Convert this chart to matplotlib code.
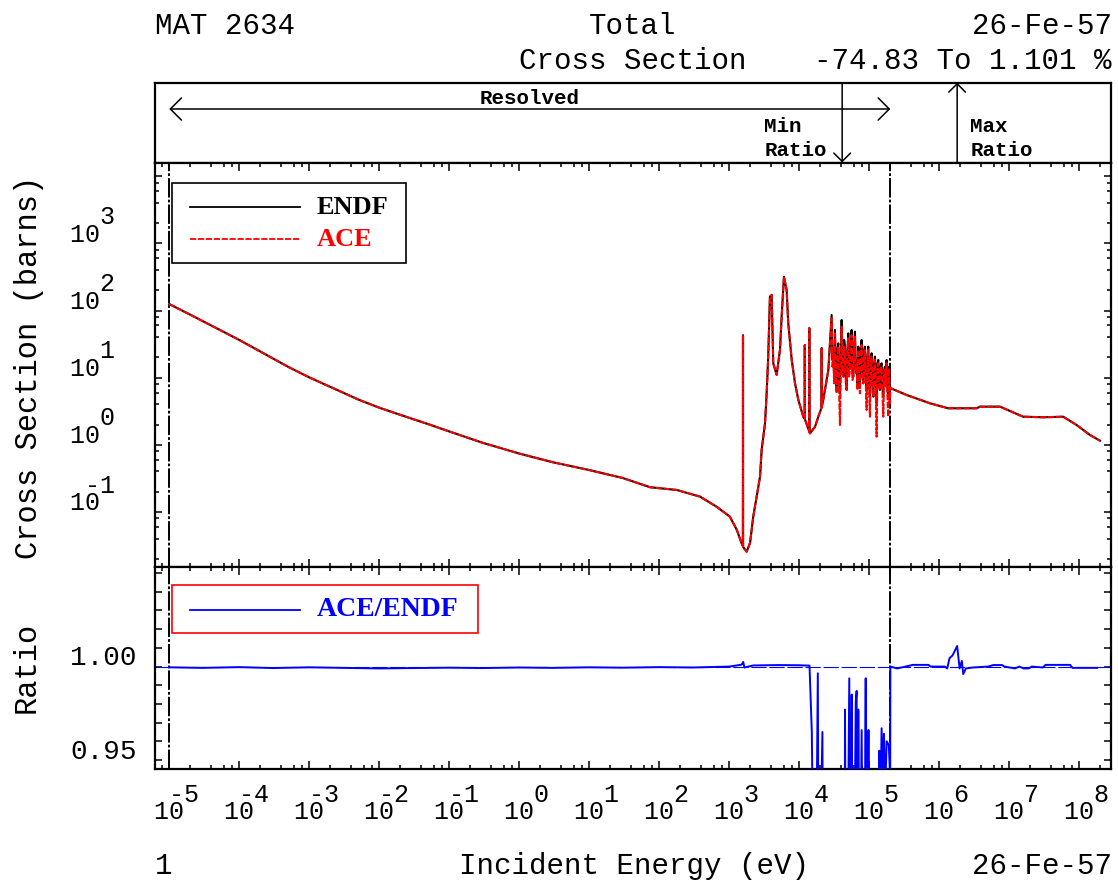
import numpy as np
import matplotlib
matplotlib.use("Agg")
import matplotlib.pyplot as plt
from matplotlib.patches import FancyArrowPatch, Rectangle
from matplotlib.lines import Line2D
from matplotlib.ticker import FixedLocator, NullLocator, NullFormatter

# ---------------------------------------------------------------- data
# Total cross section of Fe-57 (ENDF evaluation), barns vs incident energy (eV)
energy_ev = [
    1e-5, 2e-5, 5e-5, 1e-4, 2e-4, 5e-4, 1e-3, 2e-3, 5e-3, 1e-2,
    2e-2, 5e-2, 0.1, 0.3, 1.0, 3.0, 10.0, 30.0,
    74.0, 178.0, 381.0, 662.0, 1020.0, 1280.0, 1500.0, 1565.0, 1570.0,
    1575.0, 1770.0, 1980.0, 2200.0, 2460.0, 2750.0, 2900.0, 3240.0, 3420.0, 3600.0,
    3810.0, 4030.0, 4250.0, 4750.0, 5300.0, 5600.0, 6040.0, 6600.0, 6960.0, 7800.0,
    8690.0, 9700.0, 11400.0, 11950.0, 12000.0, 12050.0, 13850.0, 13900.0, 13950.0, 14200.0,
    16800.0, 18700.0, 20850.0, 20900.0, 20950.0, 22000.0, 26000.0,
    # dense resonance cluster, 29 keV - 196 keV
    28990.0, 29800.0, 30620.0, 31470.0, 32340.0, 33240.0, 34170.0, 35120.0, 36090.0, 37100.0,
    38130.0, 39190.0, 40270.0, 41390.0, 42550.0, 43730.0, 44940.0, 46190.0, 47480.0, 48800.0,
    50150.0, 51540.0, 52970.0, 54450.0, 55960.0, 57510.0, 59110.0, 60750.0, 62440.0, 64170.0,
    65960.0, 67790.0, 69660.0, 71600.0, 73590.0, 75630.0, 77730.0, 79890.0, 82110.0, 84390.0,
    86740.0, 89150.0, 91620.0, 94170.0, 96780.0, 99470.0, 102200.0, 105100.0, 108000.0, 111000.0,
    114100.0, 117300.0, 120500.0, 123900.0, 127300.0, 130800.0, 134500.0, 138200.0, 142000.0, 146000.0,
    150100.0, 154200.0, 158500.0, 162900.0, 167400.0, 172100.0, 176900.0, 181800.0, 186800.0, 192000.0,
    196000.0,
    2.0e5, 3.42e5, 7.36e5, 1.345e6, 3.42e6, 3.81e6,
    7.36e6, 1.58e7, 3.06e7, 5.9e7, 9.18e7, 1.42e8, 1.98e8,
]
endf_barns = [
    125.0, 86.7, 53.1, 36.5, 24.5, 14.5, 10.1, 7.28, 4.73, 3.57,
    2.79, 2.03, 1.58, 1.07, 0.74, 0.55, 0.42, 0.32,
    0.233, 0.212, 0.169, 0.119, 0.085, 0.054, 0.034, 0.031, 43.0,
    0.030, 0.0255, 0.0344, 0.085, 0.169, 0.335, 0.84, 2.09, 5.85, 20.5,
    161.0, 171.0, 16.4, 11.0, 25.9, 81.0, 320.0, 203.0, 64.6, 18.4,
    8.26, 4.66, 2.62, 2.45, 30.7, 2.40, 1.60, 55.0, 1.55, 1.48,
    1.86, 2.62, 3.6, 27.7, 3.7, 4.66, 13.0,
    85.9, 18.4, 25.9, 10.4, 51.4, 14.6, 6.56, 25.9, 32.5, 8.24,
    5.85, 18.4, 72.4, 16.4, 10.4, 36.5, 29.0, 10.4, 6.56, 25.9,
    45.8, 13.0, 14.6, 32.5, 51.4, 11.6, 10.4, 29.0, 48.5, 14.6,
    18.4, 8.24, 29.0, 13.0, 8.24, 25.9, 36.5, 13.0, 8.24, 25.9,
    29.0, 10.4, 6.56, 20.6, 29.0, 8.24, 5.21, 18.4, 23.1, 9.24,
    5.21, 16.4, 20.6, 8.24, 4.15, 16.4, 18.4, 8.24, 6.56, 15.5,
    16.4, 7.35, 5.21, 13.0, 14.6, 8.24, 18.4, 6.56, 5.21, 14.6,
    8.24,
    7.0, 5.52, 4.15, 3.50, 3.50, 3.70,
    3.70, 2.62, 2.57, 2.62, 1.97, 1.40, 1.15,
]
# ACE values over the same 29 keV - 196 keV cluster
ace_band_barns = [
    76.6, 14.6, 23.1, 8.24, 45.8, 11.6, 5.85, 20.6, 29.0, 6.56,
    1.97, 14.6, 57.6, 13.0, 10.4, 29.0, 25.9, 8.24, 6.56, 23.1,
    38.6, 10.4, 14.6, 25.9, 43.3, 9.24, 10.4, 25.9, 40.9, 11.6,
    16.4, 6.56, 25.9, 11.6, 5.85, 23.1, 30.7, 10.4, 8.24, 20.6,
    25.9, 8.24, 3.30, 18.4, 25.9, 6.56, 2.62, 16.4, 20.6, 7.35,
    5.21, 14.6, 18.4, 6.56, 1.32, 14.6, 16.4, 7.35, 6.56, 13.8,
    14.6, 6.56, 2.62, 11.6, 13.0, 7.35, 16.4, 5.21, 2.62, 13.8,
    4.15,
]

# ACE/ENDF ratio
ratio_energy_ev = [
    1e-5, 3e-5, 1e-4, 3e-4, 1e-3, 3e-3, 1e-2, 3e-2, 0.1, 0.3,
    1.0, 3.0, 10.0, 30.0, 100.0, 300.0, 1000.0, 1500.0, 1580.0, 1650.0,
    2200.0, 5000.0, 10000.0, 14000.0, 15100.0, 15800.0, 16400.0, 17500.0, 18400.0, 19000.0,
    21400.0, 22000.0, 22200.0, 30000.0, 41000.0, 44000.0, 45000.0, 47000.0, 51800.0, 53500.0,
    56100.0, 58000.0, 64100.0, 66000.0, 67000.0, 69700.0, 73000.0, 77800.0, 83000.0, 88900.0,
    92000.0, 96800.0, 98000.0, 100000.0, 120000.0, 135000.0, 139000.0, 145000.0, 150000.0, 156000.0,
    162000.0, 168000.0, 177000.0, 190000.0, 199000.0, 2.0e5, 2.5e5, 3.3e5, 4.2e5, 7.0e5,
    7.5e5, 1.2e6, 1.3e6, 1.4e6, 1.55e6, 1.8e6, 1.9e6, 1.95e6, 2.1e6, 2.2e6,
    2.4e6, 3e6, 5e6, 5.9e6, 7.9e6, 8.5e6, 1.2e7, 1.4e7, 1.6e7, 1.9e7,
    2.1e7, 3e7, 3.3e7, 7.4e7, 8e7, 1.8e8,
]
ratio_ace_endf = [
    0.9996, 0.9993, 0.9997, 0.9992, 0.9996, 0.9993, 0.9990, 0.9992, 0.9994, 0.9992,
    0.9995, 0.9993, 0.9996, 0.9994, 0.9997, 0.9995, 1.0000, 1.0010, 1.0025, 0.9995,
    1.0006, 1.0008, 1.0007, 1.0005, 0.965, 0.90, 0.80, 0.90, 0.9964, 0.85,
    0.965, 0.85, 0.70, 0.60, 0.2517, 0.70, 0.977, 0.80, 0.9937, 0.85,
    0.985, 0.80, 0.981, 0.987, 0.80, 0.977, 0.85, 0.966, 0.80, 0.9937,
    0.80, 0.966, 0.966, 0.80, 0.60, 0.80, 0.955, 0.93, 0.967, 0.94,
    0.964, 0.93, 0.960, 0.958, 0.94, 1.0, 0.9990, 1.0, 1.0009, 1.0009,
    1.0, 1.0, 0.9990, 1.0045, 1.006, 1.01101, 1.003, 0.999, 1.003, 0.996,
    0.999, 0.9995, 1.0, 1.0008, 1.0008, 1.0, 0.999, 1.0, 0.999, 0.999,
    1.0, 0.9995, 1.0009, 1.0009, 0.9993, 0.9993,
]

resolved_range_ev = (1.0e-5, 2.0e5)
x_decades = list(range(-5, 9))
y_decades = list(range(-1, 4))
ratio_labels = {1.00: "1.00", 0.95: "0.95"}

# ---------------------------------------------------------------- setup
plt.rcParams["font.family"] = ["Liberation Mono", "DejaVu Sans Mono"]
plt.rcParams["lines.scale_dashes"] = False

W, H, DPI = 1118, 881, 100
fig = plt.figure(figsize=(W / DPI, H / DPI), dpi=DPI)
fig.patch.set_facecolor("white")


def box(left, top, right, bottom):
    return [left / W, 1 - bottom / H, (right - left) / W, (bottom - top) / H]


def ftext(x, y, s, **kw):
    kw.setdefault("va", "center")
    return fig.text(x / W, 1 - y / H, s, **kw)


L, R = 155.0, 1110.5
ax_top = fig.add_axes(box(L, 82.7, R, 162.5))
ax_xs = fig.add_axes(box(L, 162.5, R, 567.3))
ax_r = fig.add_axes(box(L, 567.3, R, 769.0))

xlim = (10 ** -5.204, 10 ** 8.446)
for ax in (ax_top, ax_xs, ax_r):
    ax.set_xscale("log")
    ax.set_xlim(*xlim)
    for sp in ax.spines.values():
        sp.set_linewidth(1.6)

# top annotation strip: no ticks
ax_top.set_ylim(0, 1)
ax_top.xaxis.set_major_locator(NullLocator())
ax_top.xaxis.set_minor_locator(NullLocator())
ax_top.yaxis.set_major_locator(NullLocator())

ax_xs.set_yscale("log")
ax_xs.set_ylim(10 ** -1.826, 10 ** 4.207)
ax_r.set_ylim(0.9452, 1.0531)

x_major = [10.0 ** k for k in x_decades]
x_minor = [m * 10.0 ** k for k in range(-6, 9) for m in (2, 4, 6, 8)]
for ax in (ax_xs, ax_r):
    ax.xaxis.set_major_locator(FixedLocator(x_major))
    ax.xaxis.set_minor_locator(FixedLocator(x_minor))
    ax.xaxis.set_major_formatter(NullFormatter())
    ax.xaxis.set_minor_formatter(NullFormatter())
    ax.tick_params(which="both", direction="in", top=True, right=True,
                   labelbottom=False, labelleft=False, width=1.1)
    ax.tick_params(which="major", length=5.8)
    ax.tick_params(which="minor", length=3.2)

ax_xs.yaxis.set_major_locator(FixedLocator([10.0 ** k for k in range(-1, 5)]))
ax_xs.yaxis.set_minor_locator(FixedLocator([m * 10.0 ** k for k in range(-2, 5) for m in (2, 4, 6, 8)]))
ax_xs.yaxis.set_major_formatter(NullFormatter())
ax_xs.yaxis.set_minor_formatter(NullFormatter())
ax_xs.tick_params(axis="y", which="major", length=5.0)

ax_r.yaxis.set_major_locator(FixedLocator([round(0.95 + 0.01 * i, 2) for i in range(11)]))
ax_r.yaxis.set_minor_locator(NullLocator())
ax_r.yaxis.set_major_formatter(NullFormatter())
ax_r.tick_params(axis="y", which="major", length=5.0)

# ---------------------------------------------------------------- curves
E = np.array(energy_ev)
endf = np.array(endf_barns)
ace = endf.copy()
band = (E > 2.7e4) & (E < 2.0e5)
ace[band] = ace_band_barns

ax_xs.plot(E, endf, color="black", lw=1.5, zorder=3)
ax_xs.plot(E, ace, color="red", lw=1.5, dashes=(4.5, 1.2), zorder=4)

rE = np.array(ratio_energy_ev)
rV = np.array(ratio_ace_endf)
ax_r.axhline(1.0, color="blue", lw=0.8, dashes=(11, 2), zorder=2)
ax_r.plot(rE, rV, color="blue", lw=1.4, zorder=3)

for ax in (ax_xs, ax_r):
    for e in resolved_range_ev:
        ax.axvline(e, color="black", lw=1.4, dashes=(14, 1.5, 2, 1.5), zorder=2.5)

# ---------------------------------------------------------------- tick labels
tick_fs = 18
char_w = 15.0  # advance of one monospace character at tick_fs, in pixels


def decade_label(x_center, y_base, k):
    """'10' centred at x_center with the exponent raised after it; a minus
    sign sits over the trailing zero, as the plotting package prints it."""
    exp = str(k)
    upper = " " * (3 - len(exp)) + exp
    ftext(x_center - char_w, y_base - 8.5, upper + "\n10 ", ha="left",
          multialignment="left", linespacing=0.665, fontsize=tick_fs)


for k in x_decades:
    xd = ax_r.transData.transform((10.0 ** k, 1.0))[0]
    decade_label(xd, 812, k)

for k in y_decades:
    yd = H - ax_xs.transData.transform((1.0, 10.0 ** k))[1]
    decade_label(85, yd - 9, k)

for v, s in ratio_labels.items():
    yd = H - ax_r.transData.transform((1.0, v))[1]
    ftext(137, yd - 8.5, s, ha="right", fontsize=20)

# ---------------------------------------------------------------- axis titles
ftext(29, 367.5, "Cross Section (barns)", ha="center", rotation=90, fontsize=22)
ftext(27, 667.5, "Ratio", ha="center", rotation=90, fontsize=22)

# ---------------------------------------------------------------- header / footer
rmin, rmax = rV.min(), rV.max()
range_text = f"{(rmin - 1) * 100:.2f} To {(rmax - 1) * 100:.3f} %"
ftext(155, 26, "MAT 2634", ha="left", fontsize=21)
ftext(633, 26, "Total", ha="center", fontsize=21)
ftext(1112, 26, "26-Fe-57", ha="right", fontsize=21)
ftext(633, 61, "Cross Section", ha="center", fontsize=21)
ftext(1112, 61, range_text, ha="right", fontsize=21)
ftext(155, 866, "1", ha="left", fontsize=21)
ftext(634, 866, "Incident Energy (eV)", ha="center", fontsize=21)
ftext(1112, 866, "26-Fe-57", ha="right", fontsize=21)

# ---------------------------------------------------------------- annotation strip
def strip_y(py):
    return (162.5 - py) / (162.5 - 82.7)


y_res = strip_y(109.0)
ax_top.add_patch(FancyArrowPatch(
    (resolved_range_ev[0], y_res), (resolved_range_ev[1], y_res),
    arrowstyle="<->,head_length=0.4,head_width=0.4", mutation_scale=20,
    lw=1.1, color="black", shrinkA=0, shrinkB=0))
x_mid = np.sqrt(resolved_range_ev[0] * resolved_range_ev[1])
ax_top.text(x_mid, strip_y(98.0), "Resolved", ha="center", va="center",
            fontsize=15, fontweight="bold")

e_min = rE[np.argmin(rV)]
e_max = rE[np.argmax(rV)]
ax_top.add_patch(FancyArrowPatch(
    (e_min, 1.0), (e_min, 0.0), arrowstyle="->,head_length=0.4,head_width=0.4",
    mutation_scale=15, lw=1.1, color="black", shrinkA=0, shrinkB=0))
ax_top.add_patch(FancyArrowPatch(
    (e_max, 0.0), (e_max, 1.0), arrowstyle="->,head_length=0.4,head_width=0.4",
    mutation_scale=15, lw=1.1, color="black", shrinkA=0, shrinkB=0))
xm = ax_top.transData.transform((e_min, 0.5))[0]
xM = ax_top.transData.transform((e_max, 0.5))[0]
ftext(xm - 78, 127, "Min", ha="left", fontsize=15, fontweight="bold")
ftext(xm - 78, 150, "Ratio", ha="left", fontsize=15, fontweight="bold")
ftext(xM + 13, 127, "Max", ha="left", fontsize=15, fontweight="bold")
ftext(xM + 13, 150, "Ratio", ha="left", fontsize=15, fontweight="bold")

# ---------------------------------------------------------------- legends
def fig_rect(x0, y0, x1, y1, ec):
    r = Rectangle((x0 / W, 1 - y1 / H), (x1 - x0) / W, (y1 - y0) / H,
                  transform=fig.transFigure, facecolor="white", edgecolor=ec,
                  lw=1.2, zorder=10)
    fig.add_artist(r)


def fig_line(x0, x1, y, **kw):
    ln = Line2D([x0 / W, x1 / W], [1 - y / H, 1 - y / H], transform=fig.transFigure,
                zorder=11, **kw)
    fig.add_artist(ln)


leg_font = dict(family="Liberation Serif", fontweight="bold", zorder=12)
fig_rect(172, 182.7, 405.7, 263.3, "black")
fig_line(190, 300, 207, color="black", lw=1.3)
ftext(316.7, 207, "ENDF", ha="left", color="black", fontsize=19, **leg_font)
fig_line(190, 300, 239, color="red", lw=1.3, dashes=(4.5, 1.2))
ftext(316.7, 239, "ACE", ha="left", color="red", fontsize=19, **leg_font)

fig_rect(172.3, 585, 477.5, 633.3, "red")
fig_line(190, 300, 609.5, color="blue", lw=1.3)
ftext(316.7, 609.5, "ACE/ENDF", ha="left", color="blue", fontsize=20, **leg_font)

fig.savefig("out.png", dpi=DPI)
